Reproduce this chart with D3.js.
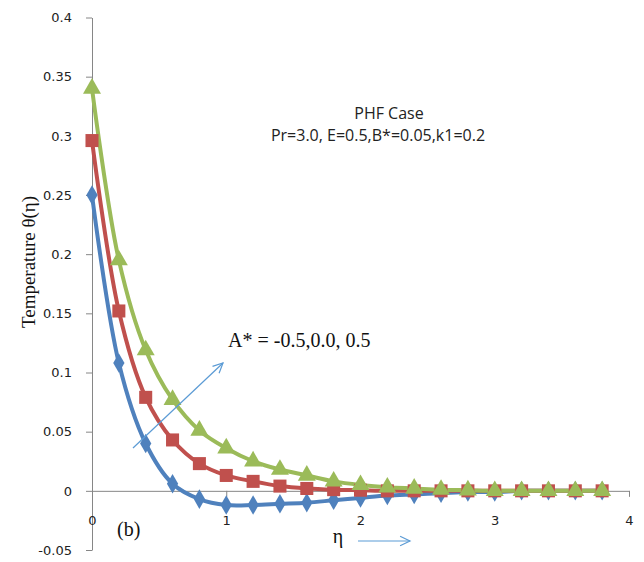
<!DOCTYPE html>
<html>
<head>
<meta charset="utf-8">
<script src="https://cdn.jsdelivr.net/npm/d3@7"></script>
<style>
  body { margin: 0; background: #fff; }
  svg { display: block; }
</style>
</head>
<body>
<div id="chart"></div>
<script>
// data
const eta = [0, 0.2, 0.4, 0.6, 0.8, 1.0, 1.2, 1.4, 1.6, 1.8, 2.0, 2.2, 2.4, 2.6, 2.8, 3.0, 3.2, 3.4, 3.6, 3.8]
const blue = [0.25, 0.108, 0.040, 0.006, -0.007, -0.012, -0.012, -0.011, -0.010, -0.008, -0.006, -0.004, -0.003, -0.002, -0.001, -0.001, 0, 0, 0, 0]
const red = [0.296, 0.152, 0.079, 0.043, 0.023, 0.013, 0.008, 0.004, 0.002, 0.001, 0.0005, 0, 0, 0, 0, 0, 0, 0, 0, 0]
const green = [0.34, 0.195, 0.119, 0.077, 0.051, 0.036, 0.025, 0.018, 0.013, 0.008, 0.005, 0.003, 0.002, 0.001, 0.0005, 0, 0, 0, 0, 0]
const xTicks = [0, 1, 2, 3, 4]
const yTicks = [-0.05, 0, 0.05, 0.1, 0.15, 0.2, 0.25, 0.3, 0.35, 0.4]

const w = 644
const h = 562

const svg = d3.select('#chart')
    .append('svg')
    .attr('width', w)
    .attr('height', h)

const xScale = d3.scaleLinear().domain([0, 4]).range([92, 629])
const yScale = d3.scaleLinear().domain([-0.05, 0.4]).range([550, 17.5])

const axisColor = '#868686'
const tickFont = '"DejaVu Sans", Verdana, sans-serif'

// y axis
const yAxis = svg.append('g')
    .attr('transform', `translate(${xScale(0)},0)`)
    .call(d3.axisLeft(yScale).tickValues(yTicks).tickSize(6).tickSizeOuter(0)
        .tickFormat(d => String(+d.toFixed(2))))
yAxis.select('.domain').attr('stroke', axisColor)
yAxis.selectAll('.tick line').attr('stroke', axisColor)
yAxis.selectAll('.tick text')
    .attr('x', -20)
    .style('font-family', tickFont)
    .style('font-size', '13px')
    .attr('fill', '#222')

// x axis at zero
const xAxis = svg.append('g')
    .attr('transform', `translate(0,${yScale(0)})`)
    .call(d3.axisBottom(xScale).tickValues(xTicks).tickSize(6).tickSizeOuter(0)
        .tickFormat(d3.format('d')))
xAxis.select('.domain').attr('stroke', axisColor)
xAxis.selectAll('.tick line').attr('stroke', axisColor)
xAxis.selectAll('.tick text')
    .attr('y', 25)
    .style('font-family', tickFont)
    .style('font-size', '13px')
    .attr('fill', '#222')

// the three curves
const series = [
    { vals: blue, color: '#4F81BD', shape: d3.symbolDiamond, size: 110 },
    { vals: red, color: '#C0504D', shape: d3.symbolSquare, size: 170 },
    { vals: green, color: '#9BBB59', shape: d3.symbolTriangle, size: 140 }
]

const line = d3.line()
    .x((d, i) => xScale(eta[i]))
    .y(d => yScale(d))
    .curve(d3.curveCatmullRom)

series.forEach(s => {
    svg.append('path')
        .datum(s.vals)
        .attr('d', line)
        .attr('fill', 'none')
        .attr('stroke', s.color)
        .attr('stroke-width', 4)
})

series.forEach(s => {
    svg.append('g')
        .selectAll('path')
        .data(s.vals)
        .enter()
        .append('path')
        .attr('transform', (d, i) => `translate(${xScale(eta[i])},${yScale(d)})`)
        .attr('d', d3.symbol().type(s.shape).size(s.size))
        .attr('fill', s.color)
})

// text annotations
const sans = '"Open Sans", "Liberation Sans", sans-serif'
svg.append('text')
    .attr('x', 389).attr('y', 119)
    .attr('text-anchor', 'middle')
    .style('font-family', sans).style('font-size', '16px')
    .attr('fill', '#222')
    .text('PHF Case')
svg.append('text')
    .attr('x', 378).attr('y', 141)
    .attr('text-anchor', 'middle')
    .style('font-family', sans).style('font-size', '16px')
    .attr('fill', '#222')
    .text('Pr=3.0, E=0.5,B*=0.05,k1=0.2')

const serif = '"Liberation Serif", "DejaVu Serif", serif'
svg.append('text')
    .attr('x', 228).attr('y', 347)
    .style('font-family', serif).style('font-size', '20px')
    .attr('fill', '#111')
    .text('A* = -0.5,0.0, 0.5')

svg.append('text')
    .attr('x', 117).attr('y', 536)
    .style('font-family', serif).style('font-size', '20px')
    .attr('fill', '#111')
    .text('(b)')

svg.append('text')
    .attr('x', 338).attr('y', 543)
    .attr('text-anchor', 'middle')
    .style('font-family', serif).style('font-size', '20px')
    .attr('fill', '#111')
    .text('η')

svg.append('text')
    .attr('transform', 'translate(35,262) rotate(-90)')
    .attr('text-anchor', 'middle')
    .style('font-family', serif).style('font-size', '19px')
    .attr('fill', '#111')
    .text('Temperature θ(η)')

// arrows
const arrowColor = '#5B9BD5'
function arrow(x1, y1, x2, y2) {
    svg.append('line')
        .attr('x1', x1).attr('y1', y1).attr('x2', x2).attr('y2', y2)
        .attr('stroke', arrowColor).attr('stroke-width', 1.2)
    const a = Math.atan2(y2 - y1, x2 - x1)
    const len = 11
    const spread = 0.45
    const p1 = [x2 - len * Math.cos(a - spread), y2 - len * Math.sin(a - spread)]
    const p2 = [x2 - len * Math.cos(a + spread), y2 - len * Math.sin(a + spread)]
    svg.append('path')
        .attr('d', `M${p1[0]},${p1[1]}L${x2},${y2}L${p2[0]},${p2[1]}`)
        .attr('fill', 'none')
        .attr('stroke', arrowColor).attr('stroke-width', 1.2)
}
arrow(133, 448, 223, 363)
arrow(358, 541, 410, 541)
</script>
</body>
</html>
